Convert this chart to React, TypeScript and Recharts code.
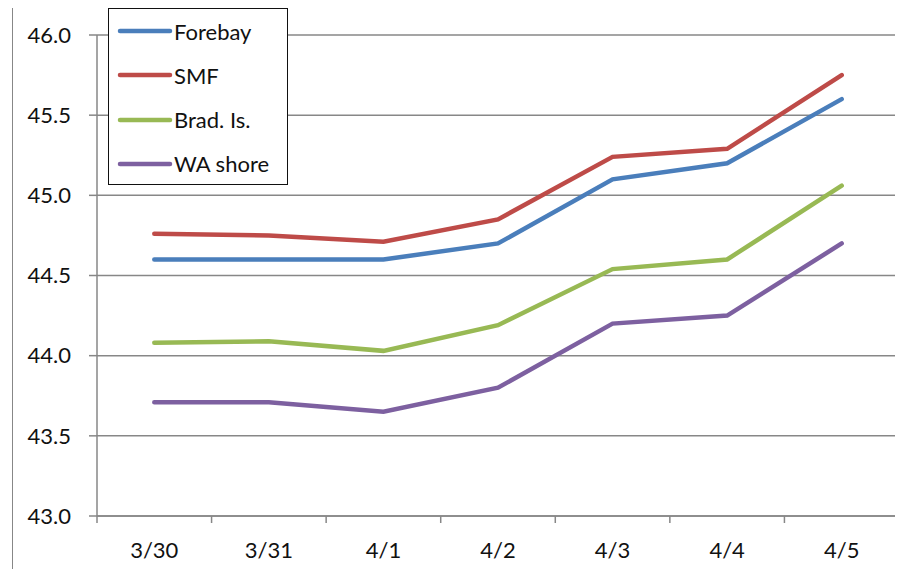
import React from 'react'
import { LineChart, Line, XAxis, YAxis, CartesianGrid, Legend } from 'recharts'

const categories = ['3/30', '3/31', '4/1', '4/2', '4/3', '4/4', '4/5']
const forebay = [44.6, 44.6, 44.6, 44.7, 45.1, 45.2, 45.6]
const smf = [44.76, 44.75, 44.71, 44.85, 45.24, 45.29, 45.75]
const bradIs = [44.08, 44.09, 44.03, 44.19, 44.54, 44.6, 45.06]
const waShore = [43.71, 43.71, 43.65, 43.8, 44.2, 44.25, 44.7]
const yTicks = [43, 43.5, 44, 44.5, 45, 45.5, 46]
const seriesNames = ['Forebay', 'SMF', 'Brad. Is.', 'WA shore']

const data = categories.map((day, i) => ({
  day,
  forebay: forebay[i],
  smf: smf[i],
  bradIs: bradIs[i],
  waShore: waShore[i],
}))

const FONT = 'Lato, "Open Sans", sans-serif'
const GRAY = '#878787'
const W = 903
const H = 577
const PLOT_LEFT = 97
const PLOT_RIGHT = 899
const BAND = (PLOT_RIGHT - PLOT_LEFT) / categories.length

function XTick(props: any) {
  const { x, y, payload, index } = props
  const left = x - BAND / 2
  return (
    <g>
      <line x1={left} y1={y} x2={left} y2={y + 7} stroke={GRAY} strokeWidth={1.5} />
      {index === categories.length - 1 && (
        <line x1={x + BAND / 2} y1={y} x2={x + BAND / 2} y2={y + 7} stroke={GRAY} strokeWidth={1.5} />
      )}
      <text x={x} y={y + 42} textAnchor="middle" fontSize={22} fontFamily={FONT} fill="#111">
        {payload.value}
      </text>
    </g>
  )
}

function LegendBox(props: any) {
  const items = [...(props.payload || [])].sort(
    (a: any, b: any) => seriesNames.indexOf(a.value) - seriesNames.indexOf(b.value)
  )
  return (
    <div
      style={{
        width: 180,
        height: 177,
        border: '1.5px solid #111',
        background: '#fff',
        boxSizing: 'border-box',
        position: 'relative',
      }}
    >
      {items.map((p: any, i: number) => (
        <div
          key={p.value}
          style={{ position: 'absolute', left: 8, top: 6 + i * 44.3, height: 32, display: 'flex', alignItems: 'center' }}
        >
          <svg width={56} height={8}>
            <line x1={3} y1={4} x2={53} y2={4} stroke={p.color} strokeWidth={4.5} strokeLinecap="round" />
          </svg>
          <span style={{ fontFamily: FONT, fontSize: 22, color: '#111', marginLeft: 1 }}>{p.value}</span>
        </div>
      ))}
    </div>
  )
}

export default function App() {
  return (
    <div style={{ position: 'relative', width: W, height: H, margin: -8, overflow: 'hidden', background: '#fff' }}>
      <div
        style={{
          position: 'absolute',
          left: 12,
          top: 6,
          width: W,
          height: H,
          borderLeft: `1.5px solid ${GRAY}`,
          borderTop: `1.5px solid ${GRAY}`,
        }}
      />
      <LineChart
        width={W}
        height={H}
        data={data}
        margin={{ top: 35, right: W - PLOT_RIGHT, bottom: 0, left: 0 }}
        style={{ position: 'absolute', left: 0, top: 0 }}
      >
        <CartesianGrid vertical={false} stroke={GRAY} strokeWidth={1.5} />
        <XAxis
          dataKey="day"
          scale="band"
          height={61}
          axisLine={{ stroke: GRAY, strokeWidth: 1.5 }}
          tickLine={false}
          tickSize={0}
          tickMargin={0}
          tick={<XTick />}
          interval={0}
        />
        <YAxis
          width={PLOT_LEFT}
          domain={[43, 46]}
          ticks={yTicks}
          interval={0}
          tickFormatter={(v: number) => v.toFixed(1)}
          axisLine={{ stroke: GRAY, strokeWidth: 1.5 }}
          tickLine={{ stroke: GRAY, strokeWidth: 1.5 }}
          tickSize={8}
          tickMargin={18}
          tick={{ fontSize: 22, fontFamily: FONT, fill: '#111' }}
        />
        <Legend
          layout="horizontal"
          verticalAlign="middle"
          align="center"
          content={<LegendBox />}
          wrapperStyle={{ position: 'absolute', left: 108, top: 8, width: 180, height: 177 }}
        />
        <Line name="Forebay" dataKey="forebay" stroke="#4A7EBB" strokeWidth={4.5} dot={false} strokeLinecap="round" isAnimationActive={false} />
        <Line name="SMF" dataKey="smf" stroke="#BE4B48" strokeWidth={4.5} dot={false} strokeLinecap="round" isAnimationActive={false} />
        <Line name="Brad. Is." dataKey="bradIs" stroke="#98B954" strokeWidth={4.5} dot={false} strokeLinecap="round" isAnimationActive={false} />
        <Line name="WA shore" dataKey="waShore" stroke="#7D60A0" strokeWidth={4.5} dot={false} strokeLinecap="round" isAnimationActive={false} />
      </LineChart>
    </div>
  )
}
